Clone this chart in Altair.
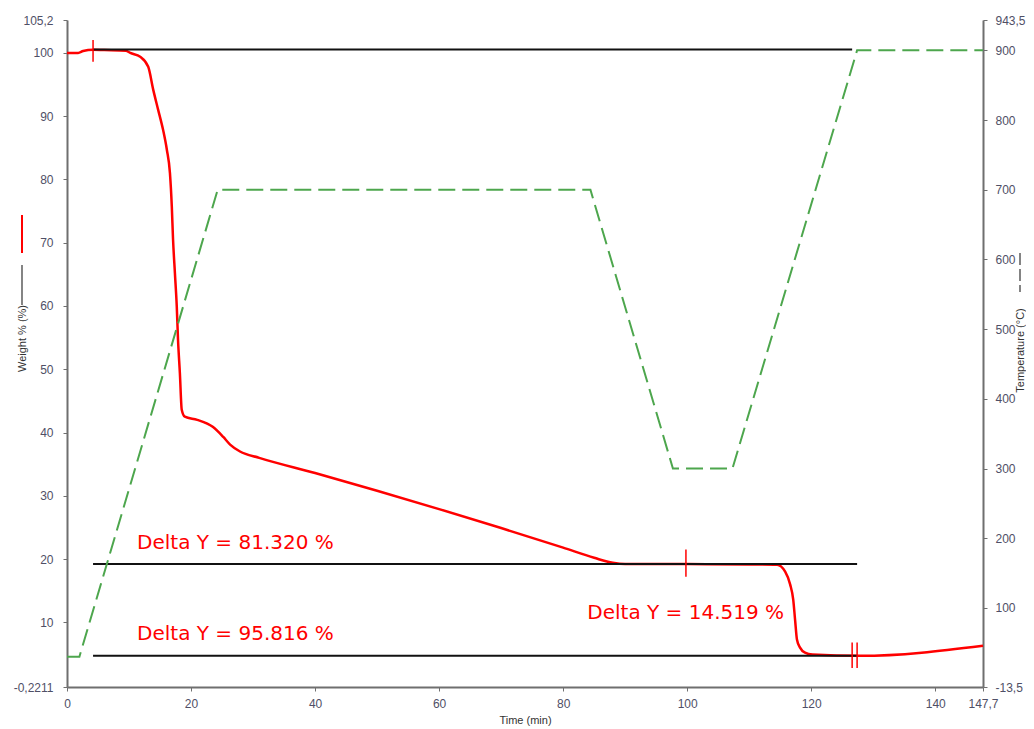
import altair as alt
import pandas as pd

# ---- data ----
time_w = [0, 1.8, 2.6, 4.2, 6.0, 9.5, 10.2, 11.8, 13.1, 13.9, 14.7, 15.5, 16.1, 16.6,
          16.9, 17.1, 17.4, 17.7, 17.9, 18.2, 18.5, 19.0, 21.0, 23.5, 25.2, 26.3,
          27.9, 31.0, 40.0, 50.0, 60.0, 70.0, 80.0, 85.0, 88.0, 90.0, 100.0, 110.0,
          114.5, 115.8, 116.6, 117.1, 117.4, 117.7, 118.2, 119.0, 120.2, 127.9, 147.7]
weight = [100.0, 100.0, 100.3, 100.5, 100.45, 100.35, 100.0, 99.4, 97.8, 94.2, 91.0,
          87.8, 84.7, 81.0, 75.7, 70.5, 65.2, 59.9, 54.7, 49.4, 43.6, 42.5, 42.0,
          40.9, 39.3, 38.1, 37.0, 36.0, 33.6, 30.8, 27.9, 24.9, 21.8, 20.2, 19.4,
          19.2, 19.2, 19.15, 19.1, 18.0, 16.0, 13.6, 10.4, 7.3, 6.0, 5.2, 4.9, 4.7, 6.3]

time_T = [0, 2.0, 24.3, 84.4, 97.7, 107.3, 127.4, 147.7]
temp = [30, 30, 700, 700, 300, 300, 900, 900]

hline_y = [100.52, 19.2, 4.70]
hline_x0 = [4.2, 4.2, 4.2]
hline_x1 = [126.6, 127.4, 127.4]

mark_x = [4.2, 99.8, 126.6, 127.4]
mark_y0 = [98.6, 17.2, 2.8, 2.8]
mark_y1 = [102.05, 21.5, 6.8, 6.8]

note_text = ["Delta Y = 81.320 %", "Delta Y = 95.816 %", "Delta Y = 14.519 %"]
note_x = [11.3, 11.3, 83.9]
note_y = [22.6, 8.2, 11.5]

x_ticks = [0, 20, 40, 60, 80, 100, 120, 140, 147.7]
left_ticks = [-0.2211, 10, 20, 30, 40, 50, 60, 70, 80, 90, 100, 105.2]
right_ticks = [-13.5, 100, 200, 300, 400, 500, 600, 700, 800, 900, 943.5]

# ---- tables ----
df_w = pd.DataFrame({"t": time_w, "w": weight, "i": range(len(time_w))})
df_T = pd.DataFrame({"t": time_T, "T": temp, "i": range(len(time_T))})
df_h = pd.DataFrame({"y": hline_y, "x0": hline_x0, "x1": hline_x1})
df_m = pd.DataFrame({"x": mark_x, "y0": mark_y0, "y1": mark_y1})
df_n = pd.DataFrame({"txt": note_text, "x": note_x, "y": note_y})
df_one = pd.DataFrame({"k": [0]})

FONT = "Liberation Sans"
LABEL_COLOR = "#4f4f66"
AXIS_COLOR = "#6f6f6f"
label_expr = "replace(toString(datum.value), '.', ',')"

xs = alt.Scale(domain=[0, 147.7], nice=False, zero=False)
ys = alt.Scale(domain=[-0.2211, 105.2], nice=False, zero=False)
ts = alt.Scale(domain=[-13.5, 943.5], nice=False, zero=False)

x_axis = alt.Axis(values=x_ticks, labelExpr=label_expr, title="Time (min)",
                  titleY=36, titleBaseline="alphabetic", labelOverlap=False,
                  labelFlush=False, tickSize=4, labelPadding=7)
y_axis = alt.Axis(values=left_ticks, labelExpr=label_expr, title="Weight % (%)",
                  titleX=-45, titleY=318, titleAngle=270, titleAlign="center",
                  titleBaseline="middle", labelOverlap=False, labelFlush=False,
                  tickSize=4, labelPadding=10)
t_axis = alt.Axis(values=right_ticks, labelExpr=label_expr, title="Temperature (°C)",
                  orient="right", titleX=37, titleY=330, titleAngle=270,
                  titleAlign="center", titleBaseline="middle", labelOverlap=False,
                  labelFlush=False, tickSize=4, labelPadding=8)

X = lambda f: alt.X(f, scale=xs, axis=x_axis)
Y = lambda f: alt.Y(f, scale=ys, axis=y_axis)

red = alt.Chart(df_w).mark_line(color="#ff0000", strokeWidth=2.5, interpolate="monotone").encode(
    x=X("t:Q"), y=Y("w:Q"), order="i:Q",
)

blacks = alt.Chart(df_h).mark_rule(color="#111111", strokeWidth=2).encode(
    x=X("x0:Q"), x2="x1:Q", y=Y("y:Q"),
)

marks = alt.Chart(df_m).mark_rule(color="#ff0000", strokeWidth=1.5).encode(
    x=X("x:Q"), y=Y("y0:Q"), y2="y1:Q",
)

notes = alt.Chart(df_n).mark_text(align="left", baseline="middle", fontSize=20,
                                  font="DejaVu Sans", color="#ff0000").encode(
    x=X("x:Q"), y=Y("y:Q"), text="txt:N",
)

leg_red = alt.Chart(df_one).mark_rule(color="#ff0000", strokeWidth=2).encode(
    x=alt.value(-45), y=alt.value(195), y2=alt.value(233))
leg_black = alt.Chart(df_one).mark_rule(color="#333333", strokeWidth=1.2).encode(
    x=alt.value(-45), y=alt.value(245), y2=alt.value(285))

left = alt.layer(red, blacks, marks, notes, leg_red, leg_black)

green = alt.Chart(df_T).mark_line(color="#4da64d", strokeWidth=2, strokeDash=[17, 7]).encode(
    x=X("t:Q"),
    y=alt.Y("T:Q", scale=ts, axis=t_axis),
    order="i:Q",
)
leg_dash = alt.Chart(df_one).mark_rule(color="#333333", strokeWidth=1.2, strokeDash=[12, 4]).encode(
    x=alt.value(953), y=alt.value(233), y2=alt.value(272))

right = alt.layer(green, leg_dash)

chart = alt.layer(left, right).resolve_scale(y="independent").properties(
    width=916, height=667,
    padding={"left": 59, "top": 12, "right": 43, "bottom": 40},
    autosize="none",
    background="white",
).configure_view(stroke=None).configure_axis(
    grid=False,
    domainColor=AXIS_COLOR, domainWidth=2,
    tickColor=AXIS_COLOR, tickWidth=1,
    labelFont=FONT, labelFontSize=12, labelColor=LABEL_COLOR,
    titleFont=FONT, titleFontSize=11, titleFontWeight="normal", titleColor="#333333",
)

chart.save("out.html", embed_options={"renderer": "svg", "actions": False})
